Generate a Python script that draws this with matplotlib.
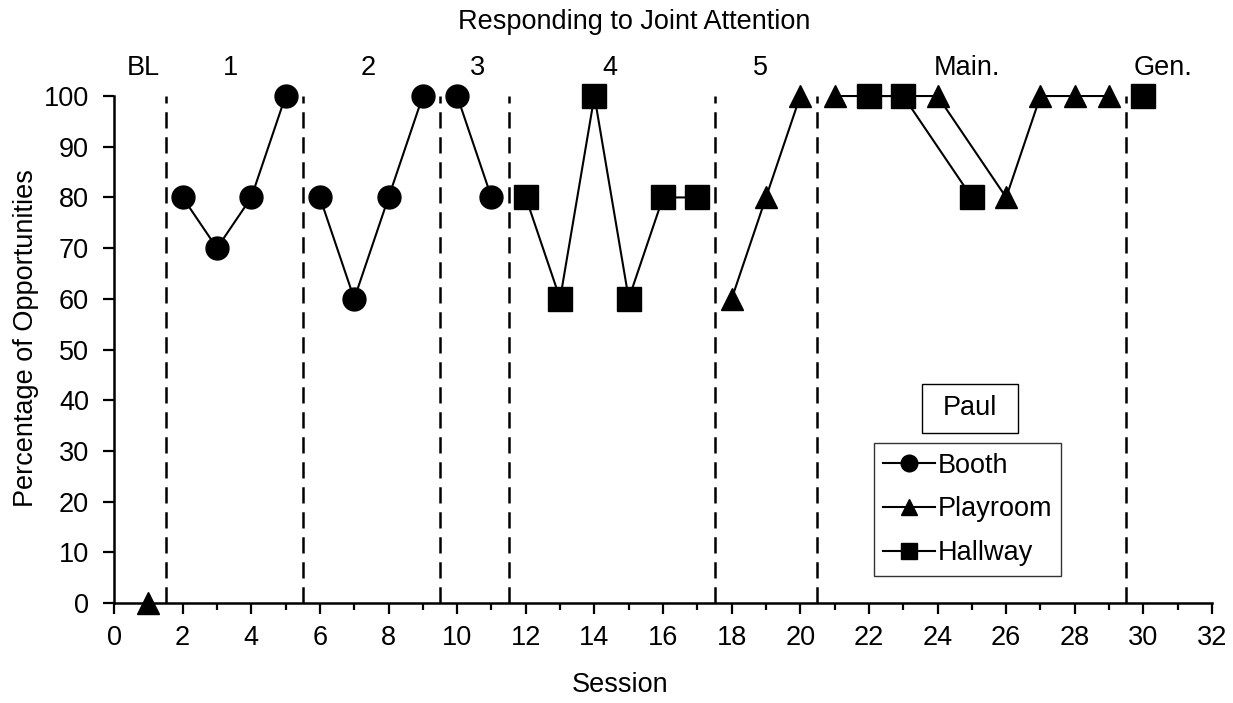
import numpy as np
import matplotlib.pyplot as plt
from matplotlib.lines import Line2D
from matplotlib.patches import Rectangle

plt.rcParams['font.family'] = ['Liberation Sans', 'DejaVu Sans']

# Booth sessions (each phase is its own segment)
booth_p1_x = [2, 3, 4, 5]
booth_p1_y = [80, 70, 80, 100]
booth_p2_x = [6, 7, 8, 9]
booth_p2_y = [80, 60, 80, 100]
booth_p3_x = [10, 11]
booth_p3_y = [100, 80]

# Playroom
play_bl_x = [1]
play_bl_y = [0]
play_p5_x = [18, 19, 20]
play_p5_y = [60, 80, 100]
play_main_x = [21, 24, 26, 27, 28, 29]
play_main_y = [100, 100, 80, 100, 100, 100]

# Hallway
hall_p4_x = [12, 13, 14, 15, 16, 17]
hall_p4_y = [80, 60, 100, 60, 80, 80]
hall_main_x = [22, 23, 25]
hall_main_y = [100, 100, 80]
hall_gen_x = [30]
hall_gen_y = [100]

phase_lines = [1.5, 5.5, 9.5, 11.5, 17.5, 20.5, 29.5]
phase_names = ['BL', '1', '2', '3', '4', '5', 'Main.', 'Gen.']
phase_label_x = [0.85, 3.38, 7.41, 10.6, 14.46, 18.84, 24.85, 30.56]

fig = plt.figure(figsize=(12.33, 7.03), dpi=100)
ax = fig.add_axes([0.0925, 0.1422, 0.8905, 0.7212])

FS = 19.5
LW = 1.5
ms_c, ms_s, ms_t = 16.5, 17, 16

for xs, ys in [(booth_p1_x, booth_p1_y), (booth_p2_x, booth_p2_y), (booth_p3_x, booth_p3_y)]:
    ax.plot(xs, ys, color='black', lw=LW, marker='o', ms=ms_c, zorder=3, clip_on=False)
for xs, ys in [(play_bl_x, play_bl_y), (play_p5_x, play_p5_y), (play_main_x, play_main_y)]:
    ax.plot(xs, ys, color='black', lw=LW, marker='^', ms=ms_t, zorder=3, clip_on=False)
for xs, ys in [(hall_p4_x, hall_p4_y), (hall_main_x, hall_main_y), (hall_gen_x, hall_gen_y)]:
    ax.plot(xs, ys, color='black', lw=LW, marker='s', ms=ms_s, zorder=3, clip_on=False)

for xv in phase_lines:
    ax.plot([xv, xv], [0, 100], color='black', lw=1.8, ls=(0, (6.5, 3.5)), zorder=2)

for name, xv in zip(phase_names, phase_label_x):
    ax.text(xv, 105.6, name, ha='center', va='center', fontsize=FS, clip_on=False)

ax.set_xlim(0, 32)
ax.set_ylim(0, 100)
ax.set_xticks(np.arange(0, 33, 2))
ax.set_xticks(np.arange(1, 32, 2), minor=True)
ax.set_yticks(np.arange(0, 101, 10))
ax.tick_params(axis='both', which='major', direction='out', length=8, width=1.6, labelsize=FS)
ax.tick_params(axis='x', which='major', pad=8)
ax.tick_params(axis='y', which='major', pad=10)
ax.tick_params(axis='x', which='minor', direction='out', length=5, width=1.6)
for s in ['top', 'right']:
    ax.spines[s].set_visible(False)
for s in ['left', 'bottom']:
    ax.spines[s].set_linewidth(1.8)

ax.set_xlabel('Session', fontsize=FS)
ax.xaxis.set_label_coords(0.461, -0.136)
ax.set_ylabel('Percentage of Opportunities', fontsize=FS)
ax.yaxis.set_label_coords(-0.068, 0.523)
fig.text(0.514, 0.969, 'Responding to Joint Attention', ha='center', va='center', fontsize=FS)

# participant box
ax.add_patch(Rectangle((0.7359, 0.3344), 0.0874, 0.0986, transform=ax.transAxes,
                       fc='white', ec='black', lw=1, clip_on=False, zorder=4))
ax.text(0.7796, 0.3837, 'Paul', transform=ax.transAxes, ha='center', va='center',
        fontsize=FS, zorder=5)

handles = [Line2D([], [], color='black', lw=LW, marker='o', ms=12),
           Line2D([], [], color='black', lw=LW, marker='^', ms=12),
           Line2D([], [], color='black', lw=LW, marker='s', ms=11)]
leg = ax.legend(handles, ['Booth', 'Playroom', 'Hallway'], loc='upper left',
                bbox_to_anchor=(0.692, 0.3156), fontsize=FS, frameon=True, fancybox=False,
                edgecolor='black', handlelength=1.9, handletextpad=0.1,
                borderpad=0.35, labelspacing=0.66, borderaxespad=0)
leg.get_frame().set_linewidth(1)

fig.savefig('out.png', dpi=100)
